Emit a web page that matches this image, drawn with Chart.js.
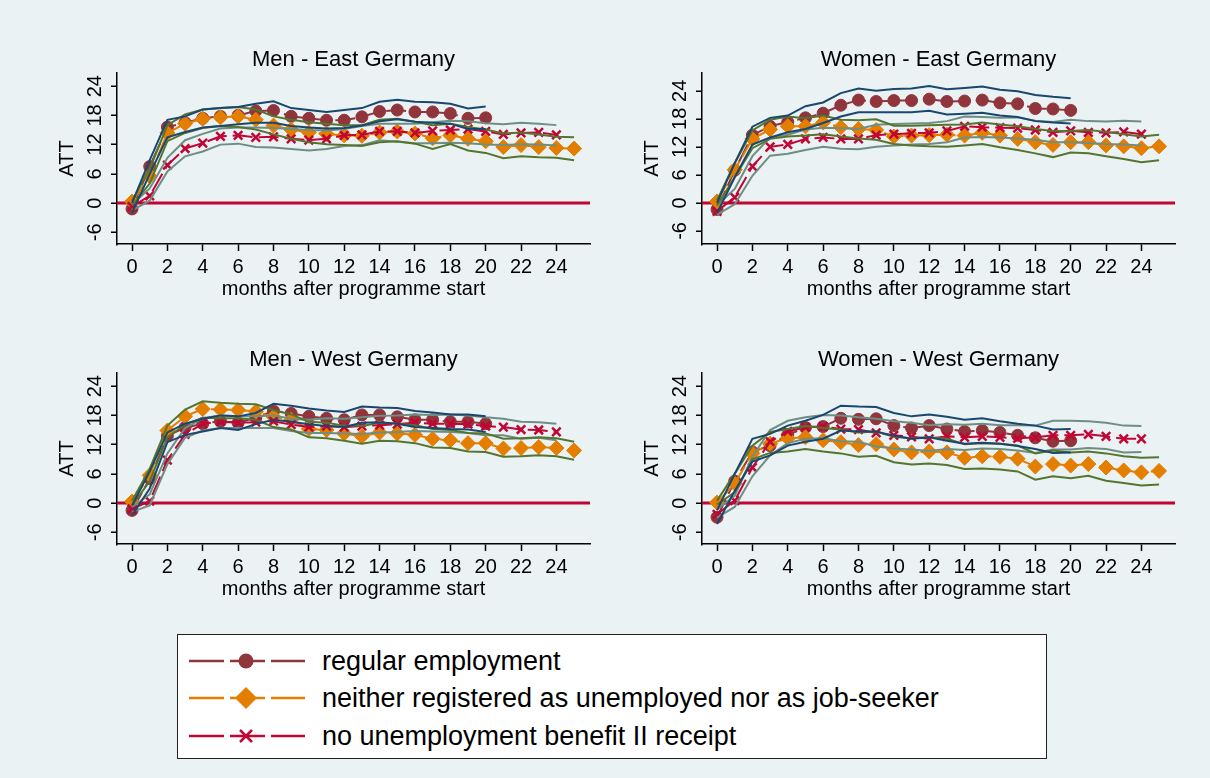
<!DOCTYPE html>
<html>
<head>
<meta charset="utf-8">
<script src="https://cdn.jsdelivr.net/npm/chart.js@4.4.1/dist/chart.umd.min.js"></script>
<style>
  html, body { margin: 0; padding: 0; }
  body { width: 1210px; height: 778px; background: #eaf2f3; position: relative; overflow: hidden;
         font-family: "Liberation Sans", Arial, sans-serif; }
  canvas { position: absolute; }
  #legend { position: absolute; left: 177px; top: 634px; width: 870px; height: 125px;
            background: #fff; border: 1.5px solid #222; box-sizing: border-box; }
  .row { position: absolute; left: 0; height: 36px; }
  .row svg { position: absolute; left: 10px; top: 0; }
  .row span { position: absolute; left: 144px; top: 50%; transform: translateY(-50%);
              font-size: 27px; color: #000; white-space: nowrap; }
</style>
</head>
<body>
<canvas id="c1" width="560" height="265" style="left:40px;top:40px"></canvas>
<canvas id="c2" width="560" height="265" style="left:625px;top:40px"></canvas>
<canvas id="c3" width="560" height="265" style="left:40px;top:340px"></canvas>
<canvas id="c4" width="560" height="265" style="left:625px;top:340px"></canvas>

<div id="legend">
  <div class="row" style="top:8px">
    <svg width="120" height="36"><line x1="1" y1="18" x2="117" y2="18" stroke="#90353b" stroke-width="2.5" stroke-dasharray="35,6"/><circle cx="58" cy="18" r="7.5" fill="#90353b"/></svg>
    <span>regular employment</span>
  </div>
  <div class="row" style="top:45px">
    <svg width="120" height="36"><line x1="1" y1="18" x2="117" y2="18" stroke="#e37e00" stroke-width="2.5" stroke-dasharray="35,6"/><polygon points="47,18 58,7 69,18 58,29" fill="#e37e00"/></svg>
    <span>neither registered as unemployed nor as job-seeker</span>
  </div>
  <div class="row" style="top:83px">
    <svg width="120" height="36"><line x1="1" y1="18" x2="117" y2="18" stroke="#c10534" stroke-width="2.5" stroke-dasharray="35,6"/><line x1="52" y1="12" x2="64" y2="24" stroke="#c10534" stroke-width="2.5"/><line x1="52" y1="24" x2="64" y2="12" stroke="#c10534" stroke-width="2.5"/></svg>
    <span>no unemployment benefit II receipt</span>
  </div>
</div>

<script>
// months after programme start
const months = [0, 1, 2, 3, 4, 5, 6, 7, 8, 9, 10, 11, 12, 13, 14, 15, 16, 17, 18, 19, 20, 21, 22, 23, 24, 25];
const xTicks = [0, 2, 4, 6, 8, 10, 12, 14, 16, 18, 20, 22, 24];
const yTicks = [-6, 0, 6, 12, 18, 24];

// Men - East Germany
const meReg   = [-1.2, 7.5, 15.6, 16.5, 17.4, 17.8, 18.0, 18.9, 19.0, 17.8, 17.4, 17.0, 17.0, 17.7, 18.8, 19.1, 18.7, 18.7, 18.4, 17.4, 17.5];
const meRegHi = [0.0, 8.8, 17.1, 17.8, 19.2, 19.5, 19.7, 20.4, 20.9, 19.5, 19.1, 18.7, 19.1, 19.5, 20.8, 21.2, 20.8, 20.7, 20.4, 19.4, 19.8];
const meRegLo = [-2.0, 6.0, 13.5, 14.6, 15.5, 15.8, 16.2, 16.5, 16.5, 15.8, 15.5, 15.3, 15.4, 15.9, 16.8, 17.2, 16.7, 16.5, 16.3, 15.2, 15.2];
const meNei   = [0.3, 5.5, 14.4, 16.3, 17.3, 17.6, 17.8, 17.1, 15.9, 15.1, 14.5, 14.2, 13.9, 13.8, 14.5, 14.7, 14.3, 13.3, 13.9, 13.2, 12.7, 11.5, 11.9, 11.5, 11.3, 11.2];
const meNeiHi = [0.5, 7.0, 16.0, 18.2, 19.2, 19.5, 19.7, 19.2, 17.8, 17.1, 16.6, 16.3, 16.0, 16.0, 17.1, 17.3, 16.7, 16.0, 16.3, 15.6, 15.1, 14.3, 14.5, 14.1, 13.6, 13.5];
const meNeiLo = [-0.5, 4.0, 12.7, 14.4, 15.4, 15.8, 15.6, 15.1, 14.1, 13.2, 12.5, 12.1, 11.9, 11.7, 12.5, 12.7, 12.2, 11.1, 12.1, 10.8, 10.3, 9.2, 9.6, 9.4, 9.3, 8.8];
const meUb    = [-0.7, 1.5, 7.8, 11.2, 12.3, 13.7, 13.9, 13.5, 13.6, 13.2, 12.9, 13.2, 13.9, 14.0, 14.7, 14.7, 14.4, 14.8, 15.0, 15.2, 14.7, 14.1, 14.4, 14.5, 14.0];
const meUbHi  = [-0.3, 3.0, 9.3, 12.9, 14.2, 15.3, 15.5, 15.5, 15.4, 15.2, 15.0, 14.9, 15.2, 15.8, 16.3, 16.3, 16.3, 16.6, 16.9, 16.8, 16.4, 16.2, 16.5, 16.3, 16.0];
const meUbLo  = [-1.5, 0.5, 6.5, 9.6, 10.6, 12.0, 12.2, 11.5, 11.4, 11.1, 10.8, 11.1, 11.7, 11.9, 12.9, 12.6, 12.3, 12.3, 12.4, 12.3, 12.0, 11.9, 12.1, 12.0, 11.8];

// Women - East Germany
const weReg   = [-1.4, 7.0, 14.5, 16.4, 17.3, 18.2, 19.2, 20.9, 22.0, 21.7, 21.9, 21.9, 22.2, 21.7, 21.8, 22.0, 21.4, 21.2, 20.2, 20.1, 19.8];
const weRegHi = [0.0, 8.5, 16.3, 18.2, 18.7, 20.7, 21.5, 23.5, 24.5, 24.0, 24.4, 24.5, 25.0, 24.3, 24.6, 24.9, 24.2, 23.9, 23.1, 22.7, 22.4];
const weRegLo = [-2.2, 5.5, 12.5, 14.0, 15.1, 15.8, 17.1, 18.5, 19.4, 19.4, 19.4, 19.4, 19.7, 18.9, 19.1, 19.3, 18.7, 18.4, 17.5, 17.2, 17.0];
const weNei   = [0.3, 7.1, 13.7, 15.7, 16.4, 16.4, 17.2, 16.2, 15.8, 15.6, 14.2, 14.4, 14.5, 14.6, 14.4, 15.0, 14.4, 13.7, 13.0, 12.4, 13.0, 13.0, 12.3, 12.1, 11.7, 12.1];
const weNeiHi = [0.5, 8.5, 15.5, 17.8, 18.5, 18.1, 18.7, 17.8, 17.7, 17.9, 16.5, 16.5, 16.6, 16.7, 16.8, 17.2, 16.8, 16.4, 15.8, 15.4, 15.4, 15.6, 15.2, 14.7, 14.2, 14.6];
const weNeiLo = [-0.5, 5.5, 11.7, 13.7, 14.2, 14.4, 14.7, 14.2, 13.8, 13.5, 12.6, 12.3, 12.1, 12.0, 12.3, 12.6, 11.9, 11.3, 10.6, 9.8, 10.8, 10.6, 10.0, 9.4, 8.7, 9.1];
const weUb    = [-1.8, 1.2, 7.8, 12.0, 12.5, 13.7, 14.0, 13.7, 13.7, 14.5, 14.7, 14.9, 15.0, 15.4, 16.4, 16.2, 16.1, 16.0, 15.6, 15.1, 15.4, 15.1, 15.0, 15.2, 14.7];
const weUbHi  = [-0.5, 3.0, 10.0, 14.0, 14.6, 15.7, 16.1, 16.0, 15.8, 16.7, 16.9, 17.0, 17.1, 17.5, 18.5, 18.4, 18.2, 18.3, 17.6, 17.3, 17.8, 17.5, 17.4, 17.6, 17.4];
const weUbLo  = [-2.5, -0.3, 5.8, 10.1, 10.5, 11.3, 12.0, 11.6, 11.5, 12.0, 12.3, 12.5, 12.6, 13.0, 14.0, 14.1, 14.0, 13.8, 13.5, 13.0, 13.0, 12.8, 12.6, 12.5, 12.3];

// Men - West Germany
const mwReg   = [-1.5, 5.0, 13.8, 15.5, 16.3, 16.8, 16.5, 17.5, 18.9, 18.4, 17.8, 17.4, 17.1, 18.1, 18.1, 17.7, 17.1, 17.1, 16.7, 16.7, 16.3];
const mwRegHi = [-0.5, 6.5, 14.5, 16.3, 17.3, 18.0, 17.8, 18.5, 20.4, 20.0, 19.4, 19.0, 18.7, 19.8, 19.6, 19.5, 18.9, 18.6, 18.2, 18.2, 17.8];
const mwRegLo = [-2.5, 3.0, 12.5, 14.0, 14.7, 15.4, 15.0, 16.2, 17.1, 16.7, 16.2, 15.8, 15.6, 16.5, 16.6, 16.3, 15.6, 15.4, 15.2, 15.1, 14.6];
const mwNei   = [0.3, 5.7, 14.9, 17.8, 19.3, 19.2, 19.1, 18.8, 17.7, 17.1, 15.2, 15.0, 14.3, 13.7, 14.5, 14.3, 14.0, 13.2, 12.9, 12.3, 12.3, 11.2, 11.3, 11.5, 11.3, 10.8];
const mwNeiHi = [0.5, 7.0, 15.9, 19.2, 20.9, 20.6, 20.4, 20.3, 19.1, 18.2, 16.7, 16.5, 15.9, 15.8, 16.5, 16.3, 16.0, 15.2, 15.0, 14.4, 14.3, 13.2, 13.3, 13.5, 13.3, 12.6];
const mwNeiLo = [-0.5, 4.5, 13.5, 16.1, 17.5, 17.4, 17.4, 17.1, 15.6, 15.1, 13.5, 13.3, 12.8, 12.2, 12.8, 12.7, 12.3, 11.4, 11.3, 10.6, 10.5, 9.5, 9.6, 9.8, 9.6, 8.9];
const mwUb    = [-1.2, 0.4, 8.8, 14.1, 16.3, 16.7, 16.5, 16.6, 16.8, 16.1, 15.6, 15.8, 15.6, 15.8, 16.0, 16.2, 16.5, 16.3, 16.3, 16.2, 15.8, 15.6, 15.1, 15.0, 14.6];
const mwUbHi  = [-0.8, 1.8, 10.2, 15.4, 17.4, 18.0, 17.8, 17.8, 18.0, 17.3, 17.1, 17.4, 17.3, 17.6, 17.9, 18.0, 18.2, 18.1, 18.2, 18.0, 17.6, 17.3, 16.7, 16.6, 16.3];
const mwUbLo  = [-1.8, -0.5, 8.0, 13.4, 14.9, 15.4, 15.4, 15.4, 15.4, 14.8, 14.4, 14.4, 14.3, 14.2, 14.5, 14.6, 14.8, 14.7, 14.6, 14.4, 13.9, 13.9, 13.2, 13.4, 12.9];

// Women - West Germany
const wwReg   = [-2.9, 4.5, 10.5, 11.8, 14.0, 15.5, 15.7, 17.4, 17.2, 17.3, 15.9, 15.4, 15.9, 15.2, 14.7, 14.9, 14.5, 13.9, 13.4, 12.7, 12.8];
const wwRegHi = [-1.5, 6.0, 13.2, 14.2, 15.9, 16.9, 18.1, 20.0, 19.8, 19.7, 18.5, 17.8, 18.2, 17.7, 17.1, 17.4, 16.8, 16.3, 15.9, 15.1, 15.2];
const wwRegLo = [-4.3, 2.5, 8.5, 9.8, 11.8, 12.6, 13.2, 14.9, 14.7, 14.7, 13.8, 13.2, 13.5, 12.8, 12.2, 12.4, 12.2, 11.7, 11.1, 10.3, 10.4];
const wwNei   = [0.1, 4.0, 10.2, 12.2, 13.3, 13.5, 12.9, 12.5, 11.9, 12.1, 11.0, 10.4, 10.6, 10.4, 9.3, 9.6, 9.5, 9.1, 7.5, 8.0, 7.7, 8.0, 7.3, 6.7, 6.3, 6.6];
const wwNeiHi = [0.5, 6.0, 11.8, 14.6, 15.2, 15.8, 15.4, 15.1, 14.5, 14.7, 13.6, 13.3, 13.5, 13.2, 12.1, 12.3, 12.2, 11.8, 10.2, 10.8, 10.4, 10.6, 10.2, 9.6, 9.3, 9.4];
const wwNeiLo = [-0.3, 2.2, 9.0, 10.3, 10.6, 11.1, 10.6, 10.2, 9.5, 9.7, 8.4, 7.9, 8.1, 7.8, 7.0, 7.1, 6.9, 6.5, 4.8, 5.5, 5.1, 5.6, 4.6, 4.1, 3.6, 3.8];
const wwUb    = [-2.3, 0.5, 7.3, 12.6, 14.7, 15.6, 15.7, 15.2, 15.1, 14.4, 13.9, 13.6, 13.2, 13.7, 13.5, 13.7, 13.5, 13.3, 13.5, 13.9, 13.9, 14.1, 13.7, 13.2, 13.2];
const wwUbHi  = [-1.3, 1.5, 9.5, 15.0, 16.9, 17.6, 18.1, 18.0, 17.6, 17.3, 16.8, 16.5, 16.0, 16.2, 16.1, 16.3, 16.0, 16.0, 15.9, 16.9, 16.9, 16.8, 16.5, 15.9, 15.8];
const wwUbLo  = [-3.0, -0.8, 5.5, 9.8, 12.3, 13.2, 13.3, 12.7, 12.6, 11.6, 11.2, 11.0, 10.7, 11.1, 10.9, 11.2, 11.1, 10.8, 10.3, 11.0, 11.0, 11.3, 11.1, 10.4, 10.5];

const NAVY = 'rgb(26,71,111)';
const MAROON = 'rgb(144,53,59)';
const GREEN = 'rgb(85,117,47)';
const ORANGE = 'rgb(227,126,0)';
const TEAL = 'rgb(110,142,132)';
const CRANBERRY = 'rgb(193,5,52)';
const FONT = '"Liberation Sans", Arial, sans-serif';

function pts(arr) {
  return arr.map((v, i) => ({ x: months[i], y: v }));
}

function ciLine(arr, color) {
  return { data: pts(arr), borderColor: color, borderWidth: 2, pointRadius: 0, fill: false, tension: 0, order: 1 };
}

function estLine(arr, color, style, radius, order) {
  return {
    data: pts(arr), borderColor: color, borderWidth: 2, borderDash: [20, 6],
    pointStyle: style, pointRadius: radius, pointBackgroundColor: color, pointBorderColor: color,
    pointBorderWidth: style === 'crossRot' ? 2.5 : 1, fill: false, tension: 0, order: order
  };
}

// 軸ラベル・タイトル・ゼロ線（Stata風）
const stataDecor = {
  id: 'stataDecor',
  beforeDatasetsDraw(chart) {
    const { ctx, chartArea, scales } = chart;
    const y0 = scales.y.getPixelForValue(0);
    ctx.save();
    ctx.strokeStyle = CRANBERRY;
    ctx.lineWidth = 3;
    ctx.beginPath();
    ctx.moveTo(chartArea.left, y0);
    ctx.lineTo(chartArea.right, y0);
    ctx.stroke();
    ctx.restore();
  },
  afterDraw(chart) {
    const { ctx, chartArea, scales } = chart;
    const cx = (chartArea.left + chartArea.right) / 2;
    const cy = (chartArea.top + chartArea.bottom) / 2;
    ctx.save();
    ctx.fillStyle = '#000';
    ctx.textAlign = 'center';
    ctx.textBaseline = 'middle';
    ctx.font = '22px ' + FONT;
    ctx.fillText(chart.options.panelTitle, cx, 20);
    ctx.font = '20px ' + FONT;
    ctx.fillText('months after programme start', cx, 249);
    // 縦向きの目盛ラベル
    yTicks.forEach(v => {
      const py = scales.y.getPixelForValue(v);
      ctx.save();
      ctx.translate(chartArea.left - 22, py);
      ctx.rotate(-Math.PI / 2);
      ctx.fillText(String(v), 0, 0);
      ctx.restore();
    });
    ctx.translate(chartArea.left - 50, cy);
    ctx.rotate(-Math.PI / 2);
    ctx.fillText('ATT', 0, 0);
    ctx.restore();
  }
};

function makePanel(id, title, yMin, yMax, s) {
  new Chart(document.getElementById(id), {
    type: 'line',
    data: {
      datasets: [
        ciLine(s.regHi, NAVY), ciLine(s.regLo, NAVY),
        ciLine(s.neiHi, GREEN), ciLine(s.neiLo, GREEN),
        ciLine(s.ubHi, TEAL), ciLine(s.ubLo, TEAL),
        estLine(s.ub, CRANBERRY, 'crossRot', 6, 2),
        estLine(s.nei, ORANGE, 'rectRot', 7.5, 3),
        estLine(s.reg, MAROON, 'circle', 6, 4)
      ]
    },
    options: {
      panelTitle: title,
      responsive: false,
      animation: false,
      devicePixelRatio: 1,
      layout: { padding: { top: 33, right: 10, left: 0, bottom: 0 } },
      plugins: { legend: { display: false }, tooltip: { enabled: false }, title: { display: false } },
      scales: {
        x: {
          type: 'linear', min: -0.85, max: 25.9,
          afterBuildTicks: sc => { sc.ticks = xTicks.map(v => ({ value: v })); },
          afterFit: sc => { sc.height = 61; },
          ticks: { color: '#000', font: { size: 20, family: FONT }, padding: 4, maxRotation: 0, autoSkip: false },
          grid: { drawOnChartArea: false, tickLength: 7, tickColor: '#000', tickWidth: 1.5 },
          border: { display: true, color: '#000', width: 1.5 }
        },
        y: {
          type: 'linear', min: yMin, max: yMax,
          afterBuildTicks: sc => { sc.ticks = yTicks.map(v => ({ value: v })); },
          afterFit: sc => { sc.width = 77; },
          ticks: { display: false },
          grid: { color: '#eaf2f3', lineWidth: 2.5, tickLength: 6, tickColor: '#000', tickWidth: 1.5 },
          border: { display: true, color: '#000', width: 1.5 }
        }
      }
    },
    plugins: [stataDecor]
  });
}

makePanel('c1', 'Men - East Germany', -8.4, 26.7,
  { reg: meReg, regHi: meRegHi, regLo: meRegLo, nei: meNei, neiHi: meNeiHi, neiLo: meNeiLo, ub: meUb, ubHi: meUbHi, ubLo: meUbLo });
makePanel('c2', 'Women - East Germany', -8.8, 27.8,
  { reg: weReg, regHi: weRegHi, regLo: weRegLo, nei: weNei, neiHi: weNeiHi, neiLo: weNeiLo, ub: weUb, ubHi: weUbHi, ubLo: weUbLo });
makePanel('c3', 'Men - West Germany', -8.4, 26.7,
  { reg: mwReg, regHi: mwRegHi, regLo: mwRegLo, nei: mwNei, neiHi: mwNeiHi, neiLo: mwNeiLo, ub: mwUb, ubHi: mwUbHi, ubLo: mwUbLo });
makePanel('c4', 'Women - West Germany', -8.4, 26.7,
  { reg: wwReg, regHi: wwRegHi, regLo: wwRegLo, nei: wwNei, neiHi: wwNeiHi, neiLo: wwNeiLo, ub: wwUb, ubHi: wwUbHi, ubLo: wwUbLo });
</script>
</body>
</html>
